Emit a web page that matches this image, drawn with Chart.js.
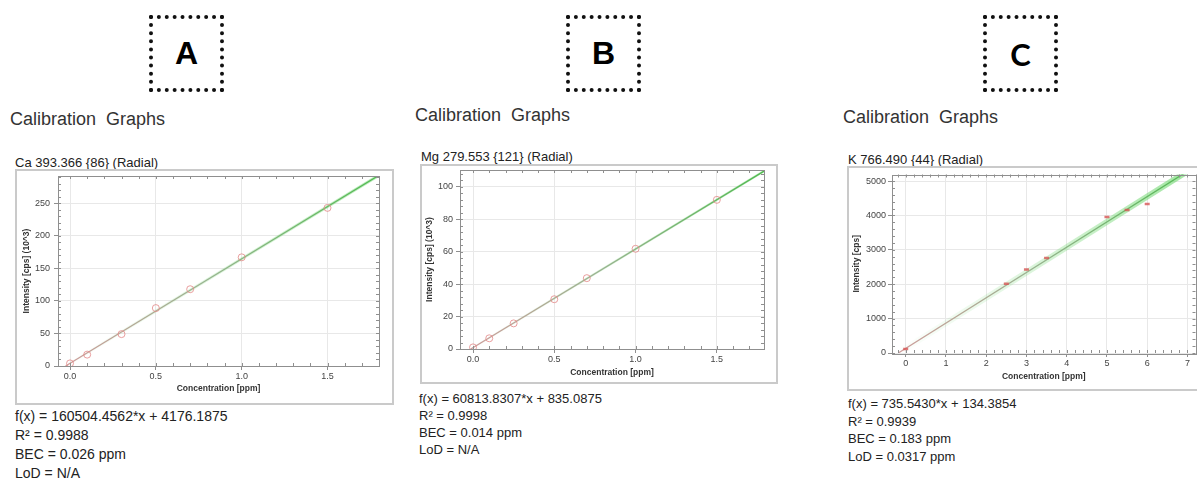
<!DOCTYPE html>
<html>
<head>
<meta charset="utf-8">
<script src="https://cdn.jsdelivr.net/npm/chart.js@4"></script>
<style>
body { margin:0; width:1197px; height:479px; overflow:hidden; background:#fff; position:relative; font-family: Arial, "Liberation Sans", sans-serif; color:#222; }
.label_box { position:absolute; box-sizing:border-box; border:4px dotted #111; width:75px; height:77px; display:flex; align-items:center; justify-content:center; font-weight:bold; font-size:32px; color:#000; }
.cal_title { position:absolute; font-size:18px; line-height:18px; color:#333; white-space:pre; }
.elem_title { position:absolute; font-size:13px; line-height:13px; color:#222; white-space:nowrap; }
.frame { position:absolute; box-sizing:border-box; border:2px solid #cacaca; }
.stats { position:absolute; white-space:nowrap; color:#222; }
canvas { position:absolute; }
</style>
</head>
<body>

<div class="label_box" style="left:149px; top:15px;">A</div>
<div class="label_box" style="left:566px; top:15px;">B</div>
<div class="label_box" style="left:983px; top:15px; font-family:Lato, sans-serif; font-size:31px;">C</div>

<div class="cal_title" style="left:10px; top:110px;">Calibration  Graphs</div>
<div class="cal_title" style="left:415px; top:106px;">Calibration  Graphs</div>
<div class="cal_title" style="left:843px; top:108px;">Calibration  Graphs</div>

<div class="elem_title" style="left:15px; top:156px;">Ca 393.366 {86} (Radial)</div>
<div class="elem_title" style="left:421px; top:150px;">Mg 279.553 {121} (Radial)</div>
<div class="elem_title" style="left:848px; top:153px;">K 766.490 {44} (Radial)</div>

<div class="frame" style="left:15px; top:169px; width:379px; height:236px;"></div>
<div class="frame" style="left:420px; top:164px; width:358px; height:220px;"></div>
<div class="frame" style="left:847px; top:166px; width:360px; height:225px;"></div>

<canvas id="chart_ca" width="370" height="225" style="left:14px; top:171px;"></canvas>
<canvas id="chart_mg" width="353" height="214" style="left:416px; top:165px;"></canvas>
<canvas id="chart_k" width="354" height="215" style="left:848px; top:168px;"></canvas>

<div class="stats" style="left:15px; top:407px; font-size:14px; line-height:19px;">
f(x) = 160504.4562*x + 4176.1875<br>R² = 0.9988<br>BEC = 0.026 ppm<br>LoD = N/A
</div>
<div class="stats" style="left:419px; top:390px; font-size:13px; line-height:17px;">
f(x) = 60813.8307*x + 835.0875<br>R² = 0.9998<br>BEC = 0.014 ppm<br>LoD = N/A
</div>
<div class="stats" style="left:848px; top:395px; font-size:13px; line-height:17.5px;">
f(x) = 735.5430*x + 134.3854<br>R² = 0.9939<br>BEC = 0.183 ppm<br>LoD = 0.0317 ppm
</div>

<script>
// Ca 393.366 (intensity in 10^3 cps)
const caConc = [0, 0.1, 0.3, 0.5, 0.7, 1.0, 1.5];
const caIntensity = [4, 17.5, 49, 89, 118, 167, 243];
const caFitConc = [-0.026, 1.8];
const caFitIntensity = [0, 293.1];
const caXTicks = [0, 0.5, 1, 1.5];
const caYTicks = [0, 50, 100, 150, 200, 250];

// Mg 279.553 (intensity in 10^3 cps)
const mgConc = [0, 0.1, 0.25, 0.5, 0.7, 1.0, 1.5];
const mgIntensity = [1, 6.6, 15.8, 30.7, 43.7, 61.8, 92];
const mgFitConc = [-0.014, 1.79];
const mgFitIntensity = [0, 109.7];
const mgXTicks = [0, 0.5, 1, 1.5];
const mgYTicks = [0, 20, 40, 60, 80, 100];

// K 766.490 (intensity in cps)
const kConc = [0, 2.5, 3, 3.5, 5, 5.5, 6];
const kIntensity = [114, 2017, 2429, 2760, 3952, 4160, 4331];
const kFitConc = [-0.183, 6.95];
const kFitIntensity = [0, 5246];
const kXTicks = [0, 1, 2, 3, 4, 5, 6, 7];
const kYTicks = [0, 1000, 2000, 3000, 4000, 5000];

Chart.defaults.font.family = 'Arial, "Liberation Sans", sans-serif';

function toPoints(xs, ys)
{
  return xs.map((x, i) => ({x: x, y: ys[i]}));
}

function diagGradient(chart, stops)
{
  const a = chart.chartArea;
  if (!a) return stops[stops.length - 1][1];
  const g = chart.ctx.createLinearGradient(a.left, a.bottom, a.right, a.top);
  stops.forEach(s => g.addColorStop(s[0], s[1]));
  return g;
}

// plot frame + minor ticks along all four sides
const frameTicks = {
  id: 'frameTicks',
  afterDatasetsDraw(chart, args, opts) {
    const {ctx, chartArea: a, scales: {x, y}} = chart;
    ctx.save();
    ctx.strokeStyle = '#8f8f8f';
    ctx.lineWidth = 1;
    ctx.beginPath();
    for (let i = Math.ceil(x.min / opts.minorX); i * opts.minorX <= x.max + 1e-9; i++) {
      const px = Math.round(x.getPixelForValue(i * opts.minorX)) + 0.5;
      ctx.moveTo(px, a.bottom); ctx.lineTo(px, a.bottom - 3);
      ctx.moveTo(px, a.top); ctx.lineTo(px, a.top + 3);
    }
    for (let i = Math.ceil(y.min / opts.minorY); i * opts.minorY <= y.max + 1e-9; i++) {
      const py = Math.round(y.getPixelForValue(i * opts.minorY)) + 0.5;
      ctx.moveTo(a.left, py); ctx.lineTo(a.left + 3, py);
      ctx.moveTo(a.right, py); ctx.lineTo(a.right - 3, py);
    }
    ctx.stroke();
    ctx.strokeRect(Math.round(a.left) + 0.5, Math.round(a.top) + 0.5, Math.round(a.width), Math.round(a.height));
    ctx.restore();
  }
};

function drawCalibration(id, conc, intensity, fitConc, fitIntensity, xTicks, yTicks, cfg)
{
  const ctx = document.getElementById(id);
  new Chart(ctx, {
    type: 'scatter',
    data: {
      datasets: [
        {
          data: toPoints(conc, intensity),
          pointStyle: cfg.pointStyle,
          pointRadius: cfg.pointRadius,
          pointBorderWidth: cfg.pointWidth,
          pointBorderColor: cfg.pointColor,
          pointBackgroundColor: 'rgba(0,0,0,0)',
          order: 1
        },
        {
          data: toPoints(fitConc, fitIntensity),
          showLine: true,
          pointRadius: 0,
          borderWidth: 1.3,
          borderColor: c => diagGradient(c.chart, [[0, 'rgba(205,150,150,0.95)'], [0.45, 'rgba(150,175,140,0.95)'], [1, 'rgba(80,185,80,1)']]),
          order: 2
        },
        {
          data: toPoints(fitConc, fitIntensity),
          showLine: true,
          pointRadius: 0,
          borderWidth: cfg.bandWidth,
          borderColor: c => diagGradient(c.chart, [[0, 'rgba(130,220,130,0)'], [0.35, 'rgba(130,220,130,0.2)'], [1, 'rgba(110,215,110,' + cfg.bandAlpha + ')']]),
          order: 3
        }
      ]
    },
    options: {
      responsive: false,
      animation: false,
      layout: { padding: { top: 4, right: 4, left: 0, bottom: 0 } },
      plugins: {
        legend: { display: false },
        tooltip: { enabled: false },
        frameTicks: { minorX: cfg.minorX, minorY: cfg.minorY }
      },
      scales: {
        x: {
          type: 'linear',
          min: cfg.xMin,
          max: cfg.xMax,
          afterBuildTicks: s => { s.ticks = xTicks.map(v => ({value: v})); },
          afterFit: s => { s.height = cfg.xAxisHeight; s.paddingLeft = 0; s.paddingRight = 0; },
          ticks: { autoSkip: false, maxRotation: 0, padding: cfg.xTickPad, color: '#444', font: { size: cfg.tickSize }, callback: v => v.toFixed(cfg.xDecimals) },
          grid: { color: '#e8e8e8', tickColor: '#8f8f8f', tickLength: 4 },
          border: { display: false },
          title: { display: true, text: 'Concentration [ppm]', color: '#333', font: { size: 8.5, weight: 'bold' }, padding: { top: 0, bottom: cfg.xTitlePad } }
        },
        y: {
          type: 'linear',
          min: 0,
          max: cfg.yMax,
          afterBuildTicks: s => { s.ticks = yTicks.map(v => ({value: v})); },
          afterFit: s => { s.width = 44; s.paddingTop = 0; s.paddingBottom = 0; },
          ticks: { autoSkip: false, padding: cfg.yTickPad, color: '#444', font: { size: cfg.tickSize }, callback: v => String(v) },
          grid: { color: '#e8e8e8', tickColor: '#8f8f8f', tickLength: 4 },
          border: { display: false },
          title: { display: true, text: cfg.yTitle, color: '#333', font: { size: 8.5, weight: 'bold' }, padding: { top: cfg.yTitlePad, bottom: 0 } }
        }
      }
    },
    plugins: [frameTicks]
  });
}

drawCalibration('chart_ca', caConc, caIntensity, caFitConc, caFitIntensity, caXTicks, caYTicks, {
  xMin: -0.07, xMax: 1.8, yMax: 292, minorX: 0.1, minorY: 10, xDecimals: 1,
  yTitle: 'Intensity [cps] (10^3)', yTitlePad: 8, xTitlePad: 2, xAxisHeight: 30, xTickPad: 1, yTickPad: 4, tickSize: 9,
  pointStyle: 'circle', pointRadius: 3.5, pointWidth: 1, pointColor: 'rgba(228,135,135,0.8)', bandWidth: 3, bandAlpha: 0.5
});

drawCalibration('chart_mg', mgConc, mgIntensity, mgFitConc, mgFitIntensity, mgXTicks, mgYTicks, {
  xMin: -0.08, xMax: 1.79, yMax: 110.4, minorX: 0.1, minorY: 4, xDecimals: 1,
  yTitle: 'Intensity [cps] (10^3)', yTitlePad: 9, xTitlePad: 1, xAxisHeight: 30, xTickPad: 1, yTickPad: 3, tickSize: 9,
  pointStyle: 'circle', pointRadius: 3.5, pointWidth: 1, pointColor: 'rgba(228,135,135,0.8)', bandWidth: 2.5, bandAlpha: 0.35
});

drawCalibration('chart_k', kConc, kIntensity, kFitConc, kFitIntensity, kXTicks, kYTicks, {
  xMin: -0.34, xMax: 7.2, yMax: 5190, minorX: 0.2, minorY: 200, xDecimals: 0,
  yTitle: 'Intensity [cps]', yTitlePad: 4, xTitlePad: 1.5, xAxisHeight: 30, xTickPad: 1.5, yTickPad: 2, tickSize: 9,
  pointStyle: 'line', pointRadius: 2.5, pointWidth: 2.5, pointColor: 'rgba(215,85,85,0.8)', bandWidth: 6, bandAlpha: 0.65
});
</script>
</body>
</html>
